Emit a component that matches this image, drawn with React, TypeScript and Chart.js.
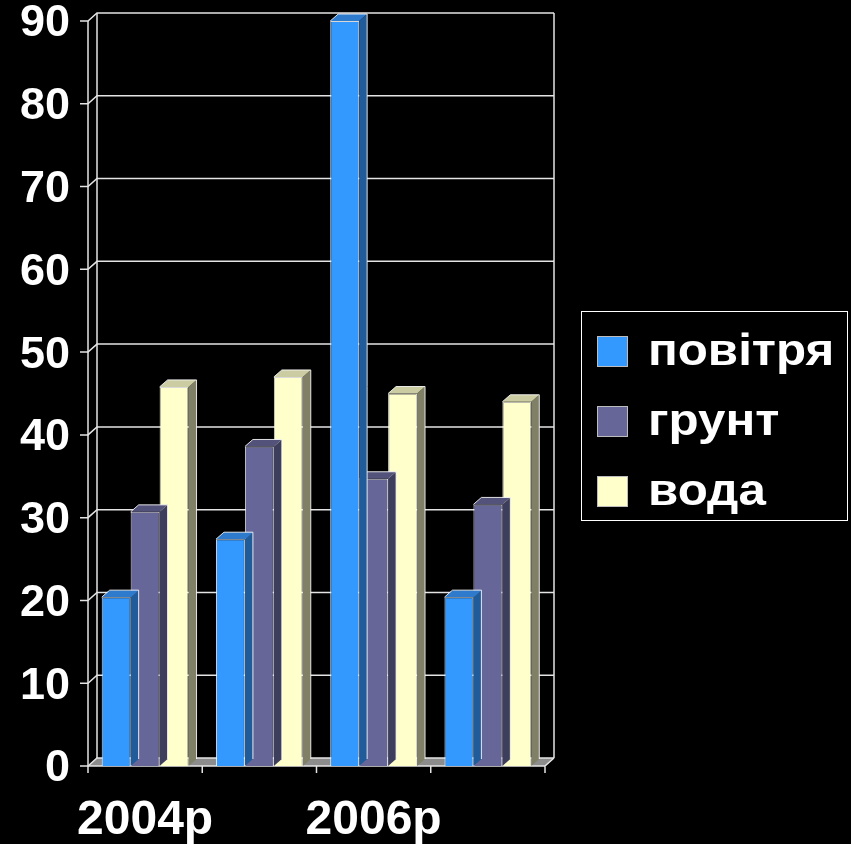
import React, { useEffect, useRef } from "react";
import { Chart, registerables } from "chart.js";

Chart.register(...registerables);

const categories = ["2004р", "2005р", "2006р", "2007р"];
const seriesNames = ["повітря", "грунт", "вода"];
const povitrya = [20.4, 27.4, 90, 20.4];
const hrunt = [30.7, 38.6, 34.7, 31.6];
const voda = [45.8, 47, 45, 44];
const yTicks = [0, 10, 20, 30, 40, 50, 60, 70, 80, 90];

const frontColors = ["#3399FF", "#666699", "#FFFFCC"];
const topColors = ["#2E7ACC", "#52527A", "#CCCCA3"];
const sideColors = ["#1F5C99", "#3D3D5C", "#808066"];

const WALL_DX = 9;
const WALL_DY = 8;
const BAR_DX = 8;
const BAR_DY = 7;
const FONT = "'Liberation Sans', Arial, sans-serif";
const LINE = "#e4e4e4";

const wallPlugin = {
  id: "wall3d",
  beforeDatasetsDraw(chart: any) {
    const { ctx, chartArea } = chart;
    const y = chart.scales.y;
    const L = chartArea.left;
    const R = chartArea.right;
    const y0 = y.getPixelForValue(0);
    const yTop = y.getPixelForValue(90);
    ctx.save();
    ctx.fillStyle = "#8c8c8c";
    ctx.beginPath();
    ctx.moveTo(L, y0);
    ctx.lineTo(R, y0);
    ctx.lineTo(R + WALL_DX, y0 - WALL_DY);
    ctx.lineTo(L + WALL_DX, y0 - WALL_DY);
    ctx.closePath();
    ctx.fill();
    ctx.strokeStyle = LINE;
    ctx.lineWidth = 1.5;
    for (const v of yTicks) {
      const py = y.getPixelForValue(v);
      ctx.beginPath();
      ctx.moveTo(L - 8, py);
      ctx.lineTo(L, py);
      ctx.lineTo(L + WALL_DX, py - WALL_DY);
      ctx.lineTo(R + WALL_DX, py - WALL_DY);
      ctx.stroke();
    }
    ctx.beginPath();
    ctx.moveTo(L, yTop);
    ctx.lineTo(L, y0);
    ctx.moveTo(L + WALL_DX, yTop - WALL_DY);
    ctx.lineTo(L + WALL_DX, y0 - WALL_DY);
    ctx.moveTo(R + WALL_DX, yTop - WALL_DY);
    ctx.lineTo(R + WALL_DX, y0 - WALL_DY);
    ctx.stroke();
    ctx.beginPath();
    ctx.moveTo(L, y0);
    ctx.lineTo(R, y0);
    ctx.lineTo(R + WALL_DX, y0 - WALL_DY);
    const n = categories.length;
    const step = (R - L) / n;
    for (let i = 0; i <= n; i++) {
      const px = L + i * step;
      ctx.moveTo(px, y0);
      ctx.lineTo(px, y0 + 7);
    }
    ctx.stroke();
    ctx.restore();
  },
  beforeDatasetDraw(chart: any, args: any) {
    const { ctx } = chart;
    const i = args.index;
    const meta = chart.getDatasetMeta(i);
    ctx.save();
    ctx.lineWidth = 1;
    ctx.strokeStyle = "rgba(255,255,255,0.85)";
    for (const el of meta.data) {
      const p = el.getProps(["x", "y", "base", "width"], true);
      const l = p.x - p.width / 2;
      const r = p.x + p.width / 2;
      const t = p.y;
      const b = p.base;
      ctx.fillStyle = sideColors[i];
      ctx.beginPath();
      ctx.moveTo(r, t);
      ctx.lineTo(r + BAR_DX, t - BAR_DY);
      ctx.lineTo(r + BAR_DX, b - BAR_DY);
      ctx.lineTo(r, b);
      ctx.closePath();
      ctx.fill();
      ctx.fillStyle = topColors[i];
      ctx.beginPath();
      ctx.moveTo(l, t);
      ctx.lineTo(l + BAR_DX, t - BAR_DY);
      ctx.lineTo(r + BAR_DX, t - BAR_DY);
      ctx.lineTo(r, t);
      ctx.closePath();
      ctx.fill();
      ctx.beginPath();
      ctx.moveTo(l, t);
      ctx.lineTo(l + BAR_DX, t - BAR_DY);
      ctx.lineTo(r + BAR_DX, t - BAR_DY);
      ctx.lineTo(r + BAR_DX, b - BAR_DY);
      ctx.stroke();
    }
    ctx.restore();
  },
};

const bgPlugin = {
  id: "bg",
  beforeDraw(chart: any) {
    const { ctx, width, height } = chart;
    ctx.save();
    ctx.fillStyle = "#000000";
    ctx.fillRect(0, 0, width, height);
    ctx.restore();
  },
};

const legendPlugin = {
  id: "customLegend",
  afterDraw(chart: any) {
    const { ctx } = chart;
    ctx.save();
    ctx.fillStyle = "#000";
    ctx.fillRect(581.5, 311.5, 266, 209);
    ctx.strokeStyle = "#ffffff";
    ctx.lineWidth = 1;
    ctx.strokeRect(581.5, 311.5, 266, 209);
    chart.data.datasets.forEach((ds: any, i: number) => {
      const y0 = 336 + i * 70;
      ctx.fillStyle = ds.backgroundColor;
      ctx.fillRect(597, y0, 31, 31);
      ctx.strokeStyle = "#bdbdbd";
      ctx.strokeRect(597.5, y0 + 0.5, 30, 30);
      ctx.save();
      ctx.translate(648, y0 + 29);
      ctx.scale(1.12, 1);
      ctx.fillStyle = "#ffffff";
      ctx.font = `bold 44px ${FONT}`;
      ctx.textBaseline = "alphabetic";
      ctx.textAlign = "left";
      ctx.fillText(ds.label, 0, 0);
      ctx.restore();
    });
    ctx.restore();
  },
};

export default function App() {
  const ref = useRef<HTMLCanvasElement>(null);
  useEffect(() => {
    document.body.style.margin = "0";
    document.body.style.background = "#000";
    const canvas = ref.current!;
    const chart = new Chart(canvas, {
      type: "bar",
      data: {
        labels: categories,
        datasets: [povitrya, hrunt, voda].map((d, i) => ({
          label: seriesNames[i],
          data: d,
          backgroundColor: frontColors[i],
          borderColor: "rgba(255,255,255,0.85)",
          borderWidth: 1,
          categoryPercentage: 0.76,
          barPercentage: 1,
        })),
      },
      options: {
        responsive: false,
        animation: false,
        devicePixelRatio: 1,
        layout: { padding: { top: 21, right: 306, left: 0, bottom: 0 } },
        plugins: { legend: { display: false }, tooltip: { enabled: false } },
        scales: {
          x: {
            grid: { display: false, drawTicks: false },
            border: { display: false },
            ticks: {
              color: "#ffffff",
              font: { family: FONT, size: 48, weight: "bold" },
              padding: 26,
              maxRotation: 0,
              autoSkip: false,
              callback: (_v: any, i: number) => (i % 2 === 0 ? categories[i] : ""),
            },
            afterFit: (s: any) => {
              s.height = 78;
              s.paddingLeft = 0;
              s.paddingRight = 0;
            },
          },
          y: {
            min: 0,
            max: 90,
            grid: { display: false, drawTicks: false },
            border: { display: false },
            ticks: {
              stepSize: 10,
              color: "#ffffff",
              font: { family: FONT, size: 45, weight: "bold" },
              padding: 18,
              labelOffset: 3,
            },
            afterFit: (s: any) => {
              s.width = 88;
              s.paddingTop = 0;
              s.paddingBottom = 0;
            },
          },
        },
      },
      plugins: [bgPlugin, wallPlugin, legendPlugin],
    });
    return () => chart.destroy();
  }, []);
  return (
    <div style={{ width: 851, height: 844, background: "#000" }}>
      <canvas ref={ref} width={851} height={844} style={{ display: "block" }} />
    </div>
  );
}
